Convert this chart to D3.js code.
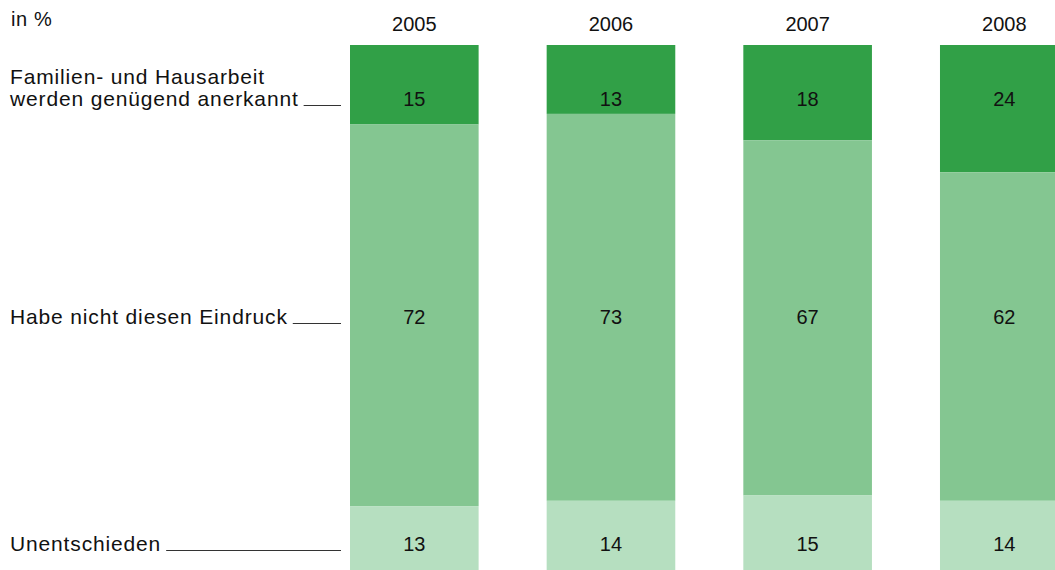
<!DOCTYPE html>
<html>
<head>
<meta charset="utf-8">
<script src="https://cdn.jsdelivr.net/npm/d3@7"></script>
<style>
  html, body { margin: 0; padding: 0; background: #fff; overflow: hidden; }
  svg { display: block; font-family: "Liberation Sans", Arial, sans-serif; }
</style>
</head>
<body>
<svg id="chart" width="1055" height="570"></svg>
<script>
// Survey answers per year, in percent
const years = ["2005", "2006", "2007", "2008"];
const anerkannt = [15, 13, 18, 24];       // Familien- und Hausarbeit werden genügend anerkannt
const nichtEindruck = [72, 73, 67, 62];   // Habe nicht diesen Eindruck
const unentschieden = [13, 14, 15, 14];   // Unentschieden
const seriesNames = [
  ["Familien- und Hausarbeit", "werden genügend anerkannt"],
  ["Habe nicht diesen Eindruck"],
  ["Unentschieden"]
];
const unitLabel = "in %";

const colors = ["#31a047", "#84c691", "#b6dfc0"];
const seriesValues = [anerkannt, nichtEindruck, unentschieden];
// label baseline per row (value labels share the row of the category text)
const rowBaseline = [106, 324, 551];

const svg = d3.select("#chart");

const x = d3.scaleBand()
  .domain(years)
  .range([350, 1068.6])
  .paddingInner(0.346)
  .paddingOuter(0);

const y = d3.scaleLinear().domain([0, 100]).range([45, 575]);

// stack the three answers per year
const rows = years.map((yr, i) => {
  const o = { year: yr };
  seriesValues.forEach((s, k) => { o["s" + k] = s[i]; });
  return o;
});
const stack = d3.stack().keys(["s0", "s1", "s2"]);
const stacked = stack(rows);

const g = svg.append("g");

stacked.forEach((layer, k) => {
  g.selectAll(null)
    .data(layer)
    .join("rect")
    .attr("x", d => x(d.data.year))
    .attr("width", x.bandwidth())
    .attr("y", d => y(d[0]))
    .attr("height", d => y(d[1]) - y(d[0]))
    .attr("fill", colors[k]);

  g.selectAll(null)
    .data(layer)
    .join("text")
    .attr("x", d => x(d.data.year) + x.bandwidth() / 2)
    .attr("y", rowBaseline[k])
    .attr("text-anchor", "middle")
    .attr("font-size", 20)
    .attr("fill", "#111")
    .text(d => d.data["s" + k]);
});

// year headers
svg.selectAll(null)
  .data(years)
  .join("text")
  .attr("x", d => x(d) + x.bandwidth() / 2)
  .attr("y", 31)
  .attr("text-anchor", "middle")
  .attr("font-size", 20)
  .attr("fill", "#111")
  .text(d => d);

// unit
svg.append("text")
  .attr("x", 11)
  .attr("y", 26)
  .attr("font-size", 20)
  .attr("letter-spacing", 0.6)
  .attr("fill", "#111")
  .text(unitLabel);

// category labels (one text block each) with leader lines to the first bar
const lineEnd = x(years[0]) - 9;
const lineGap = 22;
seriesNames.forEach((lines, k) => {
  const n = lines.length;
  const t = svg.append("text")
    .attr("font-size", 21)
    .attr("letter-spacing", 0.85)
    .attr("fill", "#111");
  let last = null;
  lines.forEach((ln, j) => {
    last = t.append("tspan")
      .attr("x", 10)
      .attr("y", rowBaseline[k] - (n - 1 - j) * lineGap)
      .text(ln);
  });
  const w = last.node().getComputedTextLength();
  svg.append("line")
    .attr("x1", 10 + w + 5)
    .attr("x2", lineEnd)
    .attr("y1", rowBaseline[k] - 0.5)
    .attr("y2", rowBaseline[k] - 0.5)
    .attr("stroke", "#333")
    .attr("stroke-width", 1.2);
});
</script>
</body>
</html>
